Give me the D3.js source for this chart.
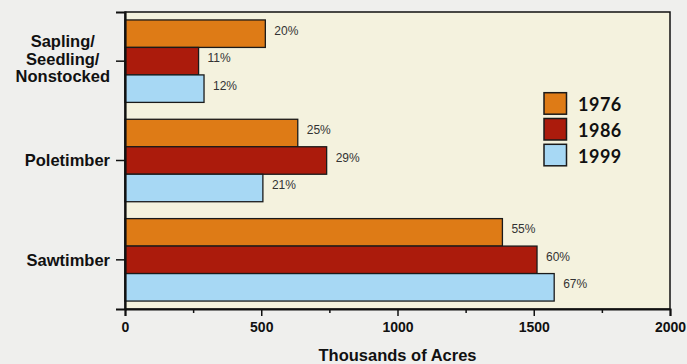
<!DOCTYPE html>
<html>
<head>
<meta charset="utf-8">
<script src="https://cdn.jsdelivr.net/npm/d3@7/dist/d3.min.js"></script>
<style>
  html, body { margin: 0; padding: 0; background: #efefed; }
  svg { display: block; }
</style>
</head>
<body>
<svg id="chart" width="687" height="364"></svg>
<script>
// Forest area by stand-size class (thousands of acres)
const categories = ["Sapling/Seedling/Nonstocked", "Poletimber", "Sawtimber"];
const categoryLines = [["Sapling/", "Seedling/", "Nonstocked"], ["Poletimber"], ["Sawtimber"]];
const years = ["1976", "1986", "1999"];
const acres1976 = [515, 634, 1385];
const acres1986 = [270, 740, 1512];
const acres1999 = [290, 506, 1575];
const share1976 = ["20%", "25%", "55%"];
const share1986 = ["11%", "29%", "60%"];
const share1999 = ["12%", "21%", "67%"];
const majorTicks = [0, 500, 1000, 1500, 2000];
const minorTicks = [250, 750, 1250, 1750];
const axisTitle = "Thousands of Acres";

const colors = { "1976": "#de7b16", "1986": "#ab1b0c", "1999": "#a7d8f4" };

const series = [
  { year: "1976", values: acres1976, shares: share1976 },
  { year: "1986", values: acres1986, shares: share1986 },
  { year: "1999", values: acres1999, shares: share1999 }
];

const svg = d3.select("#chart");
const plot = { left: 125, right: 670, top: 12, bottom: 309 };

const x = d3.scaleLinear().domain([0, 2000]).range([plot.left, plot.right]);
const y = d3.scaleBand().domain(categories).range([plot.top, plot.bottom])
  .paddingInner(0.17).paddingOuter(0.08);
const yInner = d3.scaleBand().domain(years).range([0, y.bandwidth()]).padding(0);

// plot background
svg.append("rect")
  .attr("x", plot.left).attr("y", plot.top)
  .attr("width", plot.right - plot.left).attr("height", plot.bottom - plot.top)
  .attr("fill", "#f4f2de");

// bars
const groups = svg.append("g").selectAll("g")
  .data(series).join("g");

groups.selectAll("rect")
  .data(s => s.values.map((v, i) => ({ year: s.year, cat: categories[i], v })))
  .join("rect")
  .attr("x", x(0))
  .attr("y", d => y(d.cat) + yInner(d.year))
  .attr("width", d => x(d.v) - x(0))
  .attr("height", yInner.bandwidth())
  .attr("fill", d => colors[d.year])
  .attr("stroke", "#1a1a1a")
  .attr("stroke-width", 1.3);

// percentage labels
groups.selectAll("text")
  .data(s => s.values.map((v, i) => ({ year: s.year, cat: categories[i], v, label: s.shares[i] })))
  .join("text")
  .attr("x", d => x(d.v) + 9)
  .attr("y", d => y(d.cat) + yInner(d.year) + yInner.bandwidth() / 2 + 1)
  .attr("font-family", "Liberation Sans, Arial, sans-serif")
  .attr("font-size", 12)
  .attr("fill", "#333")
  .text(d => d.label);

// frame
svg.append("rect")
  .attr("x", plot.left).attr("y", plot.top)
  .attr("width", plot.right - plot.left).attr("height", plot.bottom - plot.top)
  .attr("fill", "none").attr("stroke", "#111").attr("stroke-width", 1.5);

// bottom axis: major ticks with labels
const xAxis = svg.append("g")
  .attr("transform", `translate(0,${plot.bottom})`)
  .call(d3.axisBottom(x).tickValues(majorTicks).tickSize(7).tickPadding(6).tickFormat(d3.format("d")));
xAxis.select(".domain").attr("stroke", "#111").attr("stroke-width", 2);
xAxis.selectAll(".tick line").attr("stroke", "#111").attr("stroke-width", 1.5);
xAxis.selectAll(".tick text")
  .attr("font-family", "Liberation Sans, Arial, sans-serif")
  .attr("font-weight", "bold").attr("font-size", 14).attr("fill", "#111");

// minor ticks
const xMinor = svg.append("g")
  .attr("transform", `translate(0,${plot.bottom})`)
  .call(d3.axisBottom(x).tickValues(minorTicks).tickSize(4).tickFormat(""));
xMinor.select(".domain").remove();
xMinor.selectAll(".tick line").attr("stroke", "#111").attr("stroke-width", 1.5);

// left axis ticks
const yAxis = svg.append("g")
  .attr("transform", `translate(${plot.left},0)`)
  .call(d3.axisLeft(y).tickSize(9).tickFormat(""));
yAxis.select(".domain").attr("stroke", "#111").attr("stroke-width", 2.2);
yAxis.selectAll(".tick line").attr("stroke", "#111").attr("stroke-width", 1.5);

// category labels, right-aligned block, lines centred
const labelRight = 110;
const lineStep = 17.5;
categories.forEach((cat, ci) => {
  const lines = categoryLines[ci];
  const n = lines.length;
  const cy = y(cat) + y.bandwidth() / 2;
  const t = svg.append("text")
    .attr("font-family", "Liberation Sans, Arial, sans-serif")
    .attr("font-weight", "bold").attr("font-size", 16.5).attr("fill", "#111")
    .attr("text-anchor", "middle");
  const spans = lines.map((ln, i) =>
    t.append("tspan").attr("y", cy + 5.8 + (i - (n - 1) / 2) * lineStep - (n - 1)).text(ln));
  const widest = d3.max(spans, s => s.node().getComputedTextLength());
  spans.forEach(s => s.attr("x", labelRight - widest / 2));
});

// axis title
svg.append("text")
  .attr("x", (plot.left + plot.right) / 2).attr("y", 361)
  .attr("text-anchor", "middle")
  .attr("font-family", "Liberation Sans, Arial, sans-serif")
  .attr("font-weight", "bold").attr("font-size", 16.5).attr("fill", "#111")
  .text(axisTitle);

// legend
const legend = svg.append("g").attr("transform", "translate(544,92.7)");
const legendItems = legend.selectAll("g").data(years).join("g")
  .attr("transform", (d, i) => `translate(0,${i * 25.8})`);
legendItems.append("rect")
  .attr("width", 22.5).attr("height", 21.5)
  .attr("fill", d => colors[d])
  .attr("stroke", "#1a1a1a").attr("stroke-width", 1.5);
legendItems.append("text")
  .attr("x", 34).attr("y", 18.3)
  .attr("font-family", "Lato, Open Sans, sans-serif")
  .attr("font-weight", "bold").attr("font-size", 18).attr("fill", "#111")
  .attr("letter-spacing", 0.5)
  .text(d => d);
</script>
</body>
</html>
